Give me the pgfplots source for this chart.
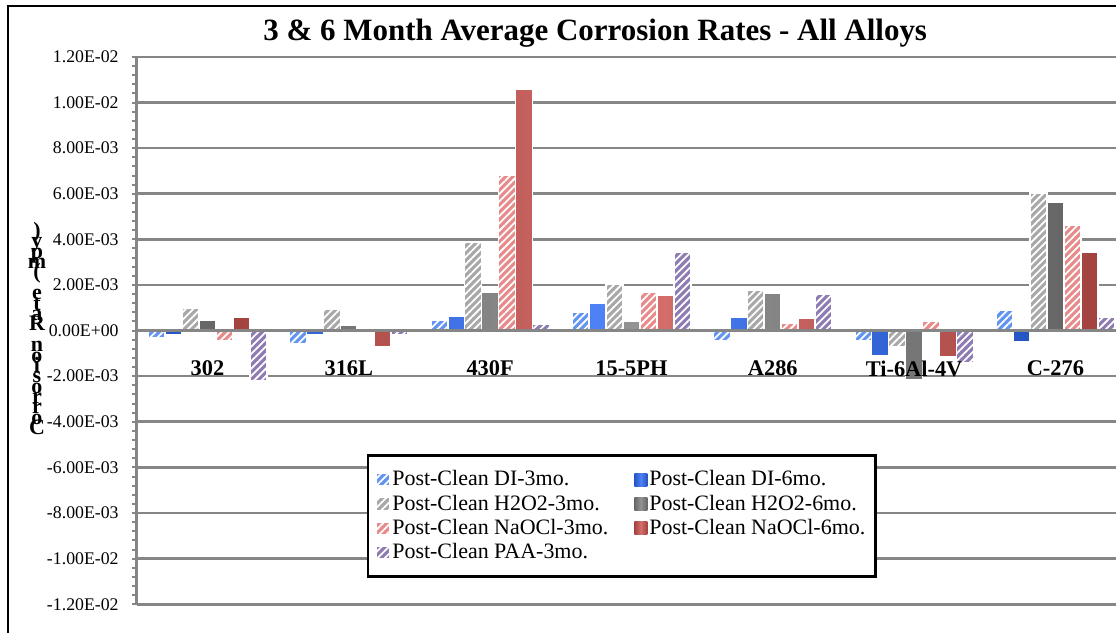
\documentclass[border=0pt]{standalone}
\usepackage{fontspec}
\setmainfont{Liberation Serif}
\usepackage{pgfplots}
\usepackage{pgfplotstable}
\pgfplotsset{compat=1.18}
\usetikzlibrary{patterns.meta}
\definecolor{gridgray}{HTML}{868686}
\definecolor{diA}{HTML}{6294F2}
\definecolor{diB}{HTML}{2F6BF5}
\definecolor{hA}{HTML}{A8A8A8}
\definecolor{hB}{HTML}{808080}
\definecolor{nA}{HTML}{E88A8A}
\definecolor{nB}{HTML}{CC5450}
\definecolor{pA}{HTML}{8E7BB2}
\tikzset{
  hatch/.style={fill=#1, draw=white, line width=0.8pt,
    postaction={pattern={Lines[angle=45,distance=2.6pt,line width=0.9pt]}, pattern color=white}},
  solidbar/.style={left color=#1!80!black, right color=#1!80!black, middle color=#1!85!white, draw=white, line width=0.8pt},
}
\pgfplotsset{
  layers/mylayers/.define layer set={
    axis background,axis grid,main,axis ticks,axis lines,axis tick labels,axis descriptions,axis foreground
  }{/pgfplots/layers/standard},
}
\pgfplotstableread{
x DI3 DI6 H3 H6 N3 N6 P3
0 -0.0003 -0.0002 0.0010 0.00047 -0.00045 0.00057 -0.0022
1 -0.0006 -0.0002 0.00092 0.00025 -0.0001 -0.0007 -0.0002
2 0.00045 0.00065 0.00386 0.0017 0.0068 0.0106 0.0003
3 0.00082 0.0012 0.00204 0.0004 0.0017 0.00156 0.00345
4 -0.00045 0.0006 0.00175 0.00166 0.00034 0.00055 0.0016
5 -0.00045 -0.0011 -0.0007 -0.00215 0.00042 -0.00115 -0.0014
6 0.0009 -0.0005 0.00604 0.00565 0.00463 0.00343 0.0006
}\data
\begin{document}
\begin{tikzpicture}
\path (0,0) rectangle (558.5pt,317pt);
\draw[black, line width=1.3pt] (4pt,0pt) -- (4pt,314pt) -- (558.5pt,314pt);
\node[font=\bfseries\fontsize{15.5}{18}\selectfont, anchor=base] at (298pt,296.5pt) {3 \& 6 Month Average Corrosion Rates - All Alloys};
\begin{axis}[
  set layers=mylayers,
  at={(68.5pt,14.5pt)}, anchor=south west,
  width=490pt, height=274pt, scale only axis,
  xmin=-0.5, xmax=6.426, ymin=-0.012, ymax=0.012,
  scaled y ticks=false,
  ybar=0pt, bar width=0.12,
  axis x line*=middle, axis y line*=left,
  axis line style={draw=gridgray, line width=1.4pt},
  tick align=outside,
  major tick length=2.6pt, minor tick length=2.6pt,
  y tick style={draw=gridgray, line width=1pt},
  xtick style={draw=none},
  ymajorgrids, grid style={draw=gridgray, line width=1.3pt},
  ytick={-0.012,-0.010,-0.008,-0.006,-0.004,-0.002,0,0.002,0.004,0.006,0.008,0.010,0.012},
  yticklabels={-1.20E-02,-1.00E-02,-8.00E-03,-6.00E-03,-4.00E-03,-2.00E-03,0.00E+00,2.00E-03,4.00E-03,6.00E-03,8.00E-03,1.00E-02,1.20E-02},
  minor y tick num=4,
  yticklabel style={font=\fontsize{8.9}{10}\selectfont, xshift=-3pt},
  xtick={0,1,2,3,4,5,6},
  xticklabels={302,316L,430F,15-5PH,A286,Ti-6Al-4V,C-276},
  xticklabel style={font=\bfseries\fontsize{11.2}{13}\selectfont, yshift=-9pt},
  legend columns=2,
  legend cell align=left,
  legend image code/.code={\path[#1, draw=none] (0pt,-3.2pt) rectangle (6.5pt,3.2pt);},
  legend style={at={(0.2347,0.2737)}, anchor=north west, draw=black, line width=1.2pt, fill=white,
    font=\fontsize{11}{12}\selectfont, inner xsep=4pt, inner ysep=7.5pt, row sep=3pt,
    nodes={inner xsep=1pt, inner ysep=0pt},
    /tikz/every even column/.append style={column sep=12pt}},
]
\addplot[hatch=diA] table[x=x,y=DI3]{\data};
\addlegendentry{Post-Clean DI-3mo.}
\addplot[solidbar=diB] table[x=x,y=DI6]{\data};
\addlegendentry{Post-Clean DI-6mo.}
\addplot[hatch=hA] table[x=x,y=H3]{\data};
\addlegendentry{Post-Clean H2O2-3mo.}
\addplot[solidbar=hB] table[x=x,y=H6]{\data};
\addlegendentry{Post-Clean H2O2-6mo.}
\addplot[hatch=nA] table[x=x,y=N3]{\data};
\addlegendentry{Post-Clean NaOCl-3mo.}
\addplot[solidbar=nB] table[x=x,y=N6]{\data};
\addlegendentry{Post-Clean NaOCl-6mo.}
\addplot[hatch=pA] table[x=x,y=P3]{\data};
\addlegendentry{Post-Clean PAA-3mo.}
\end{axis}
\node[font={\bfseries\fontsize{11}{5.2}\selectfont\lineskiplimit=-100pt}, align=center, inner sep=0pt] at (18.5pt,152.5pt) {)\\y\\p\\m\\(\\\mbox{}\\e\\t\\a\\R\\\mbox{}\\n\\o\\i\\s\\o\\r\\r\\o\\C};
\end{tikzpicture}
\end{document}
